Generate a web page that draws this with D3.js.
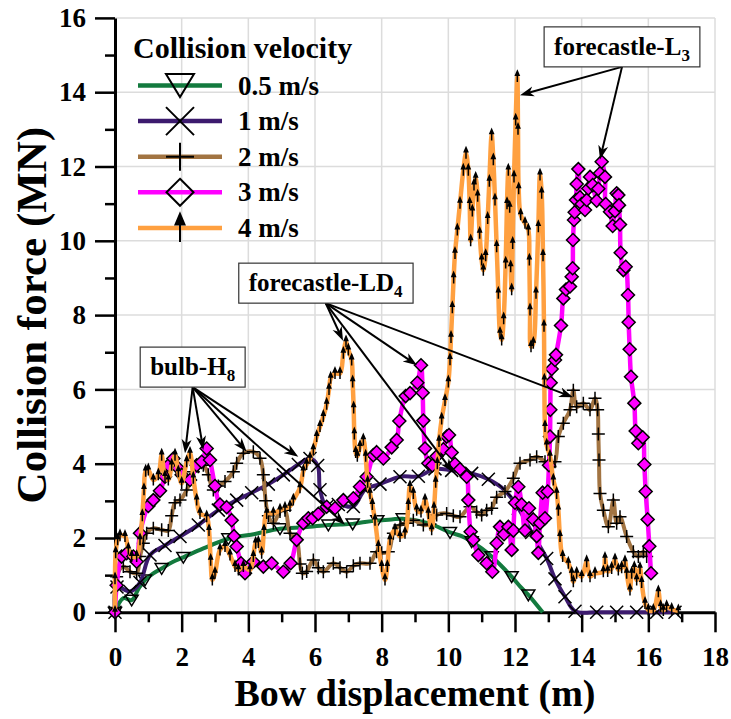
<!DOCTYPE html>
<html>
<head>
<meta charset="utf-8">
<script src="https://cdn.jsdelivr.net/npm/d3@7"></script>
<style>
  body { margin: 0; background: #fff; }
  text { font-family: "Liberation Serif", "Times New Roman", serif; font-weight: bold; fill: #000; }
</style>
</head>
<body>
<div id="chart"></div>
<script>
// tick values
const xTicks = d3.range(0, 19, 2);
const yTicks = d3.range(0, 17, 2);
const xMinor = d3.range(1, 18, 2);
const yMinor = d3.range(1, 16, 2);

const velocities = ["0.5 m/s", "1 m/s", "2 m/s", "3 m/s", "4 m/s"];

// bow displacement (m), collision force (MN)
const force05 = [[0,0],[0.25,0.38],[0.5,0.33],[0.72,0.66],[0.9,0.87],[1.15,1.05],[1.4,1.18],[1.7,1.34],[2.05,1.48],[2.65,1.72],
  [3.4,1.98],[4.2,2.11],[4.95,2.25],[5.7,2.29],[6.4,2.35],[6.75,2.36],[7.13,2.38],[7.5,2.43],[7.87,2.47],[8.3,2.5],
  [8.63,2.52],[9.4,2.4],[10.05,2.15],[10.4,2.05],[10.7,1.9],[11.0,1.72],[11.3,1.5],[11.6,1.24],[11.9,0.96],[12.15,0.7],
  [12.4,0.47],[12.83,0]];

const force1 = [[0,0],[0.06,0.68],[0.45,0.56],[0.75,0.8],[1.05,1.54],[1.5,1.8],[1.95,2.04],[2.5,2.35],[3.1,2.75],[3.65,3.02],
  [4.1,3.22],[4.6,3.45],[5.05,3.7],[5.5,3.98],[5.85,4.14],[6.08,3.95],[6.15,3.3],[6.35,2.84],[6.7,2.9],[7.15,2.85],
  [7.5,3.3],[7.95,3.45],[8.55,3.65],[9.1,3.66],[9.6,3.86],[10.1,3.82],[10.7,3.74],[11.2,3.58],[11.7,3.28],[12.1,2.8],
  [12.5,2.15],[12.95,1.45],[13.2,0.9],[13.5,0.42],[13.8,0.03],[14.45,0],[15.05,0],[15.65,0],[16.25,0],[16.8,0]];

const force2 = [[0,0],[0.05,0.96],[0.25,1.23],[0.45,1.09],[0.65,1.05],[0.75,1.5],[0.85,1.86],[0.95,2.13],[1.15,2.26],[1.4,2.22],
  [1.6,2.2],[1.7,2.6],[1.8,2.95],[1.95,3.02],[2.15,3.29],[2.35,3.78],[2.5,3.92],[2.65,3.96],[2.8,3.7],[2.95,3.29],
  [3.1,3.4],[3.3,3.52],[3.55,3.78],[3.65,4.01],[3.85,4.28],[4.15,4.32],[4.35,4.15],[4.45,3.7],[4.52,3.0],[4.6,2.6],
  [4.75,2.4],[4.95,2.71],[5.1,2.75],[5.25,2.13],[5.45,1.95],[5.55,1.3],[5.62,1.05],[5.75,1.1],[5.95,1.41],[6.1,1.2],
  [6.25,1.09],[6.55,1.32],[6.75,1.2],[6.95,1.09],[7.15,1.25],[7.35,1.32],[7.65,1.32],[7.85,1.63],[8.0,1.6],[8.2,1.63],
  [8.35,2.13],[8.55,2.35],[8.75,2.4],[8.95,2.48],[9.25,2.35],[9.45,2.38],[9.65,2.62],[9.95,2.66],[10.15,2.6],[10.35,2.57],
  [10.65,2.84],[10.85,2.7],[11.0,2.62],[11.15,2.75],[11.3,2.8],[11.45,3.1],[11.7,3.25],[11.95,3.61],[12.15,4.01],[12.45,4.1],
  [12.65,4.19],[12.9,4.05],[13.05,3.92],[13.2,4.05],[13.3,4.73],[13.45,5.09],[13.65,5.45],[13.75,5.98],[13.85,5.53],[14.05,5.63],
  [14.25,5.45],[14.4,5.76],[14.48,5.45],[14.5,4.8],[14.52,4.1],[14.55,3.2],[14.65,2.75],[14.8,2.3],[14.95,3.02],[15.05,2.4],
  [15.15,2.57],[15.35,2.04],[15.55,1.63],[15.7,1.5],[15.85,1.63],[15.95,1.5]];

const force3 = [[0,0],[0.05,0.73],[0.2,1.5],[0.35,1.59],[0.55,1.5],[0.65,1.36],[0.75,2.13],[1.0,2.86],[1.15,3.02],[1.35,3.27],
  [1.5,3.65],[1.6,3.96],[1.75,4.14],[1.9,3.88],[2.0,3.7],[2.25,3.56],[2.45,3.96],[2.6,4.05],[2.75,4.41],[2.85,4.1],
  [3.0,3.4],[3.15,2.9],[3.35,2.83],[3.5,2.48],[3.57,2.05],[3.65,1.77],[3.78,1.32],[3.9,1.05],[4.15,1.36],[4.45,1.23],
  [4.7,1.32],[5.05,1.09],[5.27,1.32],[5.45,1.95],[5.65,2.4],[5.8,2.53],[5.93,2.53],[6.1,2.65],[6.35,2.84],[6.6,2.8],
  [6.85,3.02],[7.15,3.07],[7.35,3.38],[7.55,3.65],[7.75,4.23],[7.85,4.31],[8.05,4.14],[8.3,4.44],[8.45,4.64],[8.53,5.15],
  [8.72,5.82],[8.85,5.9],[9.07,6.18],[9.18,6.65],[9.23,5.91],[9.25,5.16],[9.3,4.41],[9.4,4.01],[9.52,3.95],[9.65,4.2],
  [9.85,4.39],[9.95,4.73],[10.02,4.77],[10.1,4.3],[10.2,3.99],[10.35,3.85],[10.55,3.65],[10.6,3.02],[10.67,2.17],[10.75,1.95],
  [10.9,1.54],[11.15,1.32],[11.32,1.09],[11.45,1.86],[11.55,2.3],[11.67,2.1],[11.8,2.3],[11.9,1.68],[11.95,2.2],[12.0,2.95],
  [12.1,3.38],[12.2,2.9],[12.3,2.2],[12.42,2.8],[12.55,2.5],[12.65,2.05],[12.7,1.6],[12.75,2.4],[12.83,3.22],[12.9,2.53],
  [12.98,3.25],[13.02,3.96],[13.05,4.73],[13.06,5.45],[13.07,6.18],[13.1,6.55],[13.2,6.79],[13.23,6.93],[13.38,7.72],[13.45,8.45],
  [13.53,8.69],[13.65,8.77],[13.7,9.03],[13.73,9.26],[13.74,10.02],[13.77,10.56],[13.79,10.77],[13.83,11.1],[13.85,11.53],[13.9,11.93],
  [13.95,11.17],[14.0,10.99],[14.1,10.83],[14.15,11.1],[14.2,11.41],[14.25,11.72],[14.33,11.5],[14.45,11.08],[14.5,11.4],[14.55,11.82],
  [14.6,12.13],[14.7,11.72],[14.72,10.99],[14.85,10.78],[14.93,10.4],[15.0,10.8],[15.05,11.28],[15.1,11.23],[15.12,10.96],[15.15,10.44],
  [15.17,9.68],[15.25,9.21],[15.32,9.3],[15.39,8.54],[15.41,7.81],[15.44,7.08],[15.48,6.34],[15.58,5.63],[15.62,4.88],[15.7,4.55],
  [15.83,4.71],[15.88,3.98],[15.92,3.25],[15.98,2.5],[16.03,1.78],[16.08,1.05]];

const force4 = [[0,0],[0,0.9],[0.02,1.6],[0.08,1.95],[0.15,2.06],[0.3,2.04],[0.4,1.7],[0.5,1.5],[0.65,1.5],[0.75,1.95],
  [0.82,2.6],[0.87,3.3],[0.92,3.8],[1.0,3.83],[1.15,3.56],[1.3,3.7],[1.4,4.23],[1.5,3.65],[1.6,3.56],[1.7,3.96],
  [1.8,4.23],[1.9,3.78],[2.0,3.47],[2.15,4.05],[2.25,4.28],[2.35,3.61],[2.45,3.02],[2.55,2.66],[2.75,2.57],[2.82,2.2],
  [2.87,1.4],[2.92,0.87],[3.0,1.05],[3.15,1.68],[3.3,1.77],[3.45,1.54],[3.6,1.23],[3.7,1.14],[3.85,1.23],[4.05,1.14],
  [4.15,1.5],[4.22,1.86],[4.3,1.88],[4.4,1.59],[4.47,2.2],[4.55,2.66],[4.75,2.66],[4.95,2.75],[5.1,2.8],[5.25,2.85],
  [5.35,3.02],[5.55,3.35],[5.65,3.8],[5.75,3.98],[5.85,4.14],[5.95,4.37],[6.05,4.73],[6.15,5.0],[6.25,5.27],[6.35,5.6],
  [6.42,6.0],[6.47,6.3],[6.6,6.43],[6.75,6.43],[6.85,6.97],[6.93,7.28],[7.0,7.06],[7.1,6.79],[7.13,6.2],[7.16,5.5],
  [7.18,4.8],[7.22,4.3],[7.27,4.2],[7.35,4.46],[7.45,4.64],[7.52,4.2],[7.58,3.5],[7.65,3.2],[7.72,2.9],[7.8,2.48],
  [7.9,1.77],[8.0,1.23],[8.1,0.87],[8.17,1.23],[8.25,1.95],[8.4,2.22],[8.55,2.04],[8.7,2.13],[8.8,2.9],[8.85,3.38],
  [8.95,3.2],[9.05,2.75],[9.18,2.7],[9.3,3.02],[9.4,2.66],[9.5,2.22],[9.57,2.8],[9.62,3.5],[9.67,4.0],[9.72,4.6],
  [9.8,5.2],[9.9,5.7],[10.0,6.2],[10.05,6.8],[10.08,7.4],[10.12,8.2],[10.16,9.0],[10.2,9.66],[10.27,10.29],[10.35,11.01],
  [10.45,11.9],[10.53,12.36],[10.6,11.9],[10.64,11.0],[10.67,10.0],[10.72,10.8],[10.77,11.5],[10.82,11.68],[10.88,11.2],[10.94,10.2],
  [11.0,9.48],[11.05,9.21],[11.12,9.6],[11.18,10.6],[11.23,11.6],[11.3,12.85],[11.35,12.18],[11.4,11.1],[11.45,9.84],[11.5,8.59],
  [11.55,7.51],[11.6,7.33],[11.66,7.9],[11.72,9.4],[11.76,11.0],[11.8,11.9],[11.84,10.9],[11.87,9.3],[11.9,8.68],[11.93,9.93],
  [11.97,11.72],[12.02,13.25],[12.07,14.42],[12.09,13.0],[12.11,11.4],[12.17,10.7],[12.3,10.47],[12.4,10.29],[12.43,9.48],[12.45,8.14],
  [12.48,7.15],[12.55,7.24],[12.63,8.59],[12.7,10.38],[12.75,11.77],[12.8,11.28],[12.84,9.6],[12.87,7.7],[12.88,6.25],[12.9,5.0],
  [12.95,4.5],[13.05,4.2],[13.15,3.56],[13.25,3.2],[13.3,2.75],[13.35,2.04],[13.43,1.5],[13.6,1.32],[13.7,1.05],[13.75,0.82],
  [13.85,1.05],[14.0,0.96],[14.15,1.36],[14.25,0.96],[14.4,1.05],[14.65,1.09],[14.7,1.45],[14.78,1.1],[14.9,1.18],[15.0,1.41],
  [15.1,1.14],[15.2,1.2],[15.3,1.36],[15.35,1.05],[15.45,0.6],[15.5,1.05],[15.58,1.2],[15.65,0.87],[15.75,1.18],[15.8,0.8],
  [15.9,0.24],[16.0,0.06],[16.15,0.05],[16.3,0.55],[16.37,0.15],[16.45,0.05],[16.55,0.15],[16.7,0.08],[16.9,0.04]];

// callouts: label, subscript, box centre and arrow tips, in data units
const notes = [
  { label: "forecastle-L", sub: "3", at: [15.21, 15.22], tips: [[12.15, 13.92], [14.55, 12.19]] },
  { label: "forecastle-LD", sub: "4", at: [6.32, 8.86], tips: [[6.84, 7.31], [9.06, 6.65], [10.15, 3.76], [13.74, 5.79]] },
  { label: "bulb-H", sub: "8", at: [2.33, 6.6], tips: [[2.1, 4.28], [2.65, 4.37], [3.95, 4.32], [5.5, 4.19], [6.9, 2.36]] }
];

const series = [
  { name: velocities[0], pts: force05, color: "#137a3e", sym: "tri",     step: 2, width: 4 },
  { name: velocities[1], pts: force1,  color: "#3c1a6e", sym: "x",       step: 1, width: 4 },
  { name: velocities[2], pts: force2,  color: "#a27442", sym: "plus",    step: 1, width: 4 },
  { name: velocities[3], pts: force3,  color: "#ff00ff", sym: "diamond", step: 1, width: 4.5 },
  { name: velocities[4], pts: force4,  color: "#ffa040", sym: "arrow",   step: 1, width: 4.5 }
];

const width = 731, height = 719;

const x = d3.scaleLinear().domain([0, 18]).range([115, 715]);
const y = d3.scaleLinear().domain([0, 16]).range([612.3, 17.9]);

const svg = d3.select("#chart").append("svg")
  .attr("width", width)
  .attr("height", height);

// symbol shapes, r is the half size
function symPath(kind, r) {
  if (kind === "tri") return `M${-r},${-0.75 * r}L${r},${-0.75 * r}L0,${0.9 * r}Z`;
  if (kind === "x") return `M${-r},${-r}L${r},${r}M${-r},${r}L${r},${-r}`;
  if (kind === "plus") return `M${-r},0L${r},0M0,${-r}L0,${r}`;
  if (kind === "diamond") return `M0,${-r}L${r},0L0,${r}L${-r},0Z`;
  // upward arrow
  const hw = r * 0.32, hl = r * 0.75;
  return `M0,${r}L0,${-r + hl}M0,${-r}L${hw},${-r + hl}L${-hw},${-r + hl}Z`;
}

function symFill(s, inLegend) {
  if (s.sym === "arrow") return "#000";
  if (s.sym === "diamond" && !inLegend) return s.color;
  return "none";
}

// grid
svg.append("g").selectAll("line.vx")
  .data(xTicks.slice(1))
  .enter().append("line")
  .attr("x1", d => x(d)).attr("x2", d => x(d))
  .attr("y1", y(0)).attr("y2", y(16))
  .attr("stroke", "#dcdcdc").attr("stroke-width", 1.5);

svg.append("g").selectAll("line.hy")
  .data(yTicks.slice(1))
  .enter().append("line")
  .attr("x1", x(0)).attr("x2", x(18))
  .attr("y1", d => y(d)).attr("y2", d => y(d))
  .attr("stroke", "#dcdcdc").attr("stroke-width", 1.5);

// axes
svg.append("g")
  .attr("transform", `translate(0,${y(0)})`)
  .call(d3.axisBottom(x).tickValues(xTicks).tickSize(20).tickSizeOuter(0).tickPadding(15));
svg.append("g")
  .attr("transform", `translate(0,${y(0)})`)
  .call(d3.axisBottom(x).tickValues(xMinor).tickSize(10).tickSizeOuter(0).tickFormat(""))
  .select(".domain").remove();

svg.append("g")
  .attr("transform", `translate(${x(0)},0)`)
  .call(d3.axisLeft(y).tickValues(yTicks).tickSize(20).tickSizeOuter(0).tickPadding(9));
svg.append("g")
  .attr("transform", `translate(${x(0)},0)`)
  .call(d3.axisLeft(y).tickValues(yMinor).tickSize(10).tickSizeOuter(0).tickFormat(""))
  .select(".domain").remove();

svg.selectAll(".domain").attr("stroke", "#000").attr("stroke-width", 3);
svg.selectAll(".tick line").attr("stroke", "#000").attr("stroke-width", 2.5);
svg.selectAll(".tick text")
  .style("font-family", '"Liberation Serif", "Times New Roman", serif')
  .style("font-weight", "bold")
  .style("font-size", "27px")
  .attr("fill", "#000");

// axis titles
svg.append("text")
  .attr("x", (x(0) + x(18)) / 2)
  .attr("y", 706)
  .attr("text-anchor", "middle")
  .style("font-size", "38px")
  .text("Bow displacement (m)");

svg.append("text")
  .attr("transform", `translate(46,${(y(0) + y(16)) / 2}) rotate(-90)`)
  .attr("text-anchor", "middle")
  .style("font-size", "43px")
  .text("Collision force (MN)");

// curves and symbols
const line = d3.line()
  .x(d => x(d[0]))
  .y(d => y(d[1]))
  .curve(d3.curveCatmullRom.alpha(0.5));

series.forEach(function(s) {
  const g = svg.append("g").attr("class", "series");
  g.append("path")
    .datum(s.pts)
    .attr("d", line)
    .attr("fill", "none")
    .attr("stroke", s.color)
    .attr("stroke-width", s.width)
    .attr("stroke-linejoin", "round");

  const r = s.sym === "arrow" ? 5.5 : 6.5;
  g.selectAll("path.sym")
    .data(s.pts.filter((d, i) => i % s.step === 0))
    .enter().append("path")
    .attr("class", "sym")
    .attr("transform", d => `translate(${x(d[0])},${y(d[1])})`)
    .attr("d", symPath(s.sym, r))
    .attr("fill", symFill(s, false))
    .attr("stroke", "#000")
    .attr("stroke-width", 1.5);
});

// legend
const legend = svg.append("g");
legend.append("text")
  .attr("x", 133).attr("y", 58)
  .style("font-size", "30px")
  .text("Collision velocity");

series.forEach(function(s, i) {
  const ry = 85.5 + i * 35.6;
  legend.append("line")
    .attr("x1", 138).attr("x2", 222)
    .attr("y1", ry).attr("y2", ry)
    .attr("stroke", s.color).attr("stroke-width", 4.5);
  legend.append("path")
    .attr("transform", `translate(180,${s.sym === "tri" ? ry - 1 : ry})`)
    .attr("d", symPath(s.sym, s.sym === "diamond" ? 13.5 : 14))
    .attr("fill", symFill(s, true))
    .attr("stroke", "#000")
    .attr("stroke-width", 2);
  legend.append("text")
    .attr("x", 238).attr("y", ry + 9)
    .style("font-size", "27px")
    .text(s.name);
});

// callouts
const defs = svg.append("defs");
defs.append("marker")
  .attr("id", "head")
  .attr("viewBox", "-14 -6 15 12")
  .attr("refX", 0).attr("refY", 0)
  .attr("markerUnits", "userSpaceOnUse")
  .attr("markerWidth", 15).attr("markerHeight", 12)
  .attr("orient", "auto")
  .append("path")
  .attr("d", "M0,0L-14,-5L-10,0L-14,5Z")
  .attr("fill", "#000");

notes.forEach(function(n) {
  const g = svg.append("g");
  const cx = x(n.at[0]), cy = y(n.at[1]);

  // arrows from the bottom middle of the box
  n.tips.forEach(function(t) {
    const tx = x(t[0]), ty = y(t[1]);
    const len = Math.hypot(tx - cx, ty - (cy + 20));
    const k = (len - 6) / len;
    g.append("line")
      .attr("x1", cx).attr("y1", cy + 20)
      .attr("x2", cx + (tx - cx) * k).attr("y2", cy + 20 + (ty - cy - 20) * k)
      .attr("stroke", "#000").attr("stroke-width", 2);
    g.append("line")
      .attr("x1", cx + (tx - cx) * k).attr("y1", cy + 20 + (ty - cy - 20) * k)
      .attr("x2", tx).attr("y2", ty)
      .attr("stroke", "none")
      .attr("marker-end", "url(#head)");
  });

  const rect = g.append("rect");
  const t = g.append("text")
    .attr("x", cx).attr("y", cy + 8)
    .attr("text-anchor", "middle")
    .style("font-size", "25px");
  t.append("tspan").text(n.label);
  t.append("tspan").attr("dy", 6).style("font-size", "17px").text(n.sub);

  const bb = t.node().getBBox();
  rect.attr("x", bb.x - 10).attr("y", cy - 20)
    .attr("width", bb.width + 20).attr("height", 40)
    .attr("fill", "#fff")
    .attr("stroke", "#333").attr("stroke-width", 1.2);
});
</script>
</body>
</html>
